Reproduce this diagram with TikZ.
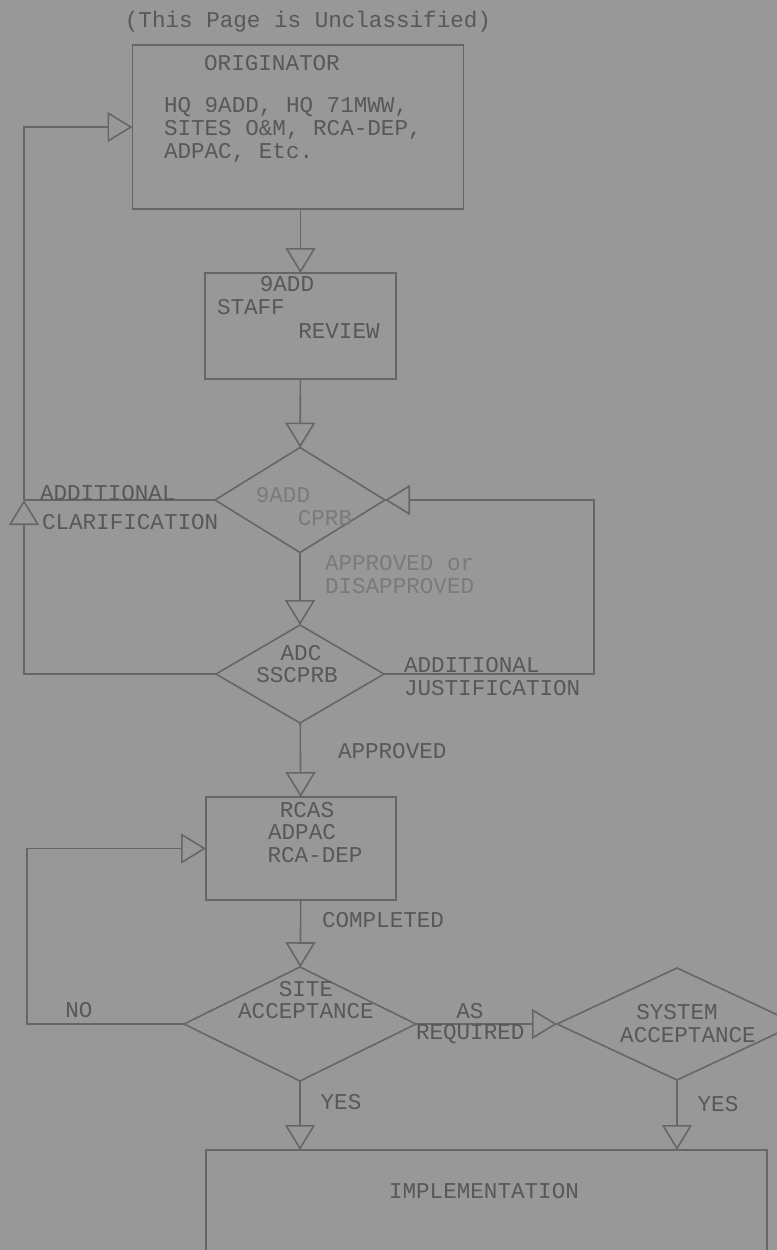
\documentclass[tikz,border=0pt]{standalone}
\usepackage{fontspec}
\setmonofont{Liberation Mono}
\usetikzlibrary{arrows.meta,shapes.geometric}
\definecolor{paper}{RGB}{152,152,152}
\definecolor{ink}{RGB}{88,88,88}
\definecolor{pale}{RGB}{122,122,122}
\definecolor{rule}{RGB}{102,102,102}

\begin{document}
\begin{tikzpicture}[x=0.5pt, y=-0.5pt,
  every node/.style={font=\fontsize{11.3}{11.5}\selectfont\ttfamily, text=ink, inner sep=0pt, outer sep=0pt},
  box/.style={draw=rule, line width=0.8pt, rectangle},
  decision/.style={draw=rule, line width=0.8pt, diamond},
  flow/.style={draw=rule, line width=0.8pt, -{Triangle[open, length=12.5pt, width=15pt]}},
  link/.style={draw=rule, line width=0.8pt},
  faint/.style={text=pale}]
\useasboundingbox[fill=paper] (0,0) rectangle (777,1250);
\clip (0,0) rectangle (777,1250);

\node (title) at (308,22) {(This Page is Unclassified)};

\node[box, minimum width=165.5pt, minimum height=82pt] (orig) at (298,127) {};
\node (origname) at (272,63) {ORIGINATOR};
\node[anchor=west, align=left] (origlist) at (164,130) {HQ 9ADD, HQ 71MWW,\\SITES O\&M, RCA-DEP,\\ADPAC, Etc.};

\node[box, minimum width=95.5pt, minimum height=53pt] (staff) at (300.5,326) {};
\node (staffa) at (287,284) {9ADD};
\node[anchor=west] (staffb) at (217,307) {STAFF};
\node (staffc) at (339,331) {REVIEW};

\node[decision, minimum width=85pt, minimum height=52.5pt] (cprb) at (300,500) {};
\node[faint] (cprba) at (283,495) {9ADD};
\node[faint] (cprbb) at (325,518) {CPRB};

\node[decision, minimum width=84pt, minimum height=49pt] (adc) at (300,674) {};
\node (adca) at (301,653) {ADC};
\node (adcb) at (297,675) {SSCPRB};

\node[box, minimum width=95pt, minimum height=51.5pt] (rcas) at (301,848.5) {};
\node (rcasa) at (307,810) {RCAS};
\node (rcasb) at (302,832) {ADPAC};
\node (rcasc) at (315,855) {RCA-DEP};

\node[decision, minimum width=116pt, minimum height=57pt] (site) at (300,1024) {};
\node (sitea) at (306,989) {SITE};
\node (siteb) at (306,1011) {ACCEPTANCE};

\node[decision, minimum width=120pt, minimum height=56pt] (system) at (677,1024) {};
\node (systema) at (677,1012) {SYSTEM};
\node (systemb) at (688,1035) {ACCEPTANCE};

\node[box, minimum width=280.5pt, minimum height=80pt] (impl) at (486.5,1230) {};
\node (impla) at (484,1191) {IMPLEMENTATION};

\coordinate (clar) at (24,500);
\coordinate (just) at (594,500);
\coordinate (redo) at (27,900);

\draw[flow] (orig.south -| staff.north) -- (staff.north);
\draw[flow] (staff) -- (cprb);
\draw[flow] (cprb) -- (adc);
\draw[flow] (adc) -- (rcas);
\draw[flow] (rcas) -- (site);
\draw[flow] (site.south) -- (site.south |- impl.north);
\draw[flow] (system.south) -- (system.south |- impl.north);
\draw[flow] (site.east) -- (system.west);
\draw[link] (cprb.west) -- (clar);
\draw[flow] (adc.west) -| (clar);
\draw[flow] (clar) |- (orig.west);
\draw[flow] (adc.east) -| (just) -- (cprb.east);
\draw[flow] (site.west) -| (redo) |- (rcas.west);

\node[faint, anchor=west] (appr) at (325,563) {APPROVED or};
\node[faint, anchor=west] (disappr) at (325,586) {DISAPPROVED};
\node[anchor=west] (addl) at (40,493) {ADDITIONAL};
\node[anchor=west] (clarif) at (42,522) {CLARIFICATION};
\node[anchor=west] (addr) at (404,665) {ADDITIONAL};
\node[anchor=west] (justif) at (404,688) {JUSTIFICATION};
\node[anchor=west] (approved) at (338,751) {APPROVED};
\node[anchor=west] (done) at (322,920) {COMPLETED};
\node (no) at (79,1010) {NO};
\node (as) at (470,1011) {AS};
\node[anchor=west] (req) at (416,1034) {REQUIRED};
\node (yesa) at (341,1102) {YES};
\node (yesb) at (718,1104) {YES};
\end{tikzpicture}
\end{document}
